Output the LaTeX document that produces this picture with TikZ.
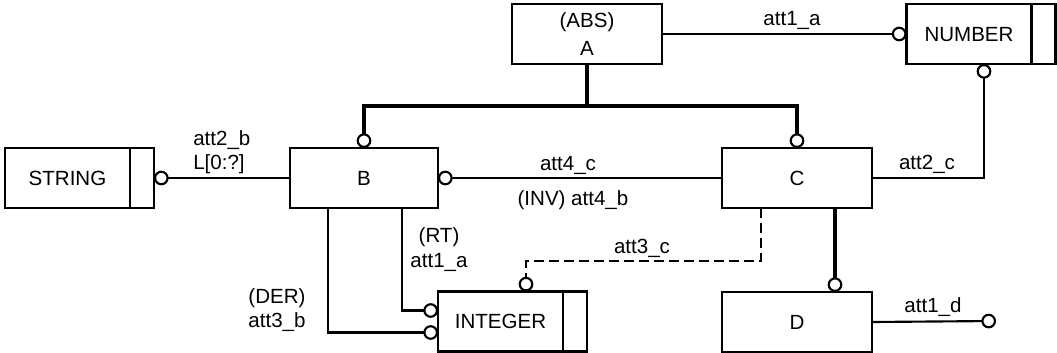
\documentclass[tikz,border=0pt]{standalone}
\usepackage{fontspec}
\setmainfont{Liberation Sans}
\usetikzlibrary{arrows.meta}
\tikzset{circ/.tip={Circle[open,length=11pt,width=11pt,line width=1.6pt]}}
\begin{document}
\begin{tikzpicture}[x=0.75pt,y=-0.75pt,
  font=\fontsize{15.4}{19}\selectfont,
  box/.style={draw, line width=1.7pt, minimum width=112.5pt, minimum height=45pt, inner sep=0pt, outer sep=0pt},
  mainbox/.style={box, minimum width=93.75pt},
  tailbox/.style={draw, line width=1.7pt, minimum width=18pt, minimum height=45pt, inner sep=0pt, outer sep=0pt, anchor=west},
  onel/.style={text height=11pt, text depth=0pt},
  conn/.style={line width=1.6pt},
  heavy/.style={line width=3.2pt},
  dashconn/.style={conn, dash pattern=on 7.5pt off 3.75pt},
  lbl/.style={anchor=base, inner sep=0pt}]
\useasboundingbox (0,0) rectangle (1057,353);
% boxes
\node[box, align=center] (A) at (587,34) {(ABS)\\[2pt]A};
\node[mainbox,onel] (number) at (969,34) {NUMBER};
\node[tailbox] (numberT) at (number.east) {};
\node[mainbox,onel] (string) at (67.5,178) {STRING};
\node[tailbox] (stringT) at (string.east) {};
\node[box,onel,minimum width=111pt] (B) at (364,178) {B};
\node[box,onel] (C) at (797,178) {C};
\node[box,onel] (D) at (797,322) {D};
\node[mainbox,onel] (integer) at (500.5,321.5) {INTEGER};
\node[tailbox] (integerT) at (integer.east) {};
% coordinates
\coordinate (j) at (587,106);
\coordinate (dc) at (761,261);
\coordinate (di) at (526,261);
\coordinate (dend) at (996,321);
% supertype tree
\draw[heavy] (A.south) -- (j);
\draw[heavy,-{circ}] (j) -| (B.north);
\draw[heavy,-{circ}] (j) -| (C.north);
\draw[heavy,-{circ}] ([xshift=28.5pt]C.south) -- ([xshift=28.5pt]D.north);
% attributes
\draw[conn,-{circ}] (A.east) -- (number.west);
\draw[conn,-{circ}] (B.west) -- (stringT.east);
\draw[conn,{circ}-] (B.east) -- (C.west);
\draw[conn,-{circ}] (C.east) -| ([xshift=11.25pt]number.south);
\draw[dashconn,-{circ}] (dc |- C.south) -- (dc) -- (di) -- (di |- integer.north);
\draw[conn,-{circ}] (D.east) -- (dend);
\draw[conn,-{circ}] ([xshift=-27pt]B.south) |- ([yshift=-8.25pt]integer.west);
\draw[conn,-{circ}] ([xshift=28.5pt]B.south) |- ([yshift=8.25pt]integer.west);
% labels
\node[lbl] (l1) at (792,26) {att1\_a};
\node[lbl, anchor=base west] (l2a) at (193,145) {att2\_b};
\node[lbl, anchor=base west] (l2b) at (193,169) {L[0:?]};
\node[lbl] (l3) at (568,170) {att4\_c};
\node[lbl] (l4) at (573,205) {(INV) att4\_b};
\node[lbl] (l5) at (927,169) {att2\_c};
\node[lbl] (l6) at (642,253) {att3\_c};
\node[lbl] (l7) at (933,312) {att1\_d};
\node[lbl] (l8a) at (439,242) {(RT)};
\node[lbl] (l8b) at (439,267) {att1\_a};
\node[lbl] (l9a) at (277,303) {(DER)};
\node[lbl] (l9b) at (277,327) {att3\_b};
\end{tikzpicture}
\end{document}
